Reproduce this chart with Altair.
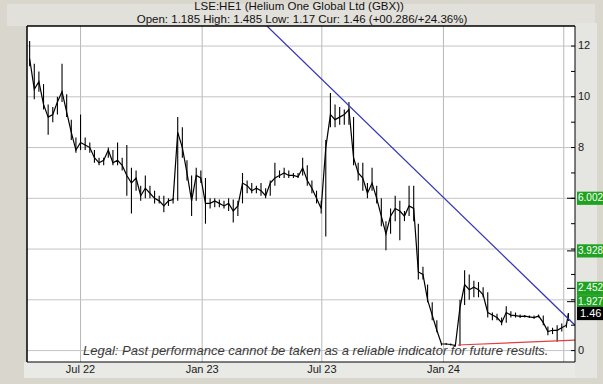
import altair as alt
import pandas as pd

# Weekly bars (Friday closes) plus the latest session
week_ends = pd.date_range("2022-04-15", "2024-07-05", freq="W-FRI")
dates = list(week_ends.strftime("%Y-%m-%d")) + ["2024-07-08"]

high = [
    # 2022
    12.2, 11.3, 11.0, 10.5, 9.7, 9.6, 10.0, 11.3, 10.1, 9.1, 8.4,
    9.3, 8.4, 8.2, 7.9, 7.6, 7.6, 8.0, 7.9, 8.2, 7.6, 8.1, 7.2, 7.1, 6.5,
    6.9, 6.5, 6.3, 6.1, 6.1, 6.0, 6.0, 9.2, 8.8, 7.5, 6.9, 7.2, 7.1,
    # 2023
    6.8, 6.0, 6.0, 5.95, 5.9, 6.0, 5.95, 5.9, 7.0, 6.7, 6.6, 6.5, 6.6,
    6.4, 6.7, 7.4, 7.1, 7.2, 7.1, 7.0, 7.0, 7.6, 7.3, 6.7, 6.3, 5.9,
    8.3, 10.15, 9.7, 9.6, 9.5, 9.8, 9.2, 7.4, 7.4, 6.6, 7.2, 6.5, 6.0,
    5.1, 5.6, 6.1, 5.9, 5.5, 6.5, 6.5, 5.0, 3.3, 2.6, 1.9, 1.2, 0.3,
    # 2024
    0.3, 0.28, 0.26, 2.0, 3.17, 3.0, 2.75, 2.7, 2.5, 2.3, 1.5, 1.45, 1.3,
    1.75, 1.55, 1.5, 1.42, 1.4, 1.38, 1.38, 1.42, 1.38, 0.95, 0.9, 1.0, 1.07,
    1.1, 1.485,
]
low = [
    # 2022
    11.2, 9.9, 10.2, 9.5, 8.5, 9.0, 9.3, 9.8, 9.2, 8.3, 7.8,
    7.9, 7.9, 7.8, 7.4, 7.3, 7.3, 7.6, 7.3, 7.3, 7.1, 6.1, 5.4, 6.3, 5.9,
    6.0, 6.0, 5.8, 5.8, 5.45, 5.7, 5.8, 5.9, 7.6, 6.7, 5.3, 5.9, 6.6,
    # 2023
    5.0, 5.6, 5.65, 5.65, 5.6, 5.5, 5.05, 5.3, 5.8, 6.2, 6.2, 6.2, 6.1,
    6.0, 6.1, 6.5, 6.8, 6.8, 6.8, 6.8, 6.8, 6.9, 6.5, 6.2, 5.8, 5.4,
    4.5, 8.8, 8.8, 8.9, 8.9, 8.9, 7.3, 6.7, 6.3, 6.0, 6.3, 5.8, 4.9,
    3.95, 4.6, 5.1, 4.35, 5.1, 5.3, 5.1, 2.8, 2.8, 1.9, 1.2, 0.72, 0.2,
    # 2024
    0.22, 0.2, 0.17, 0.18, 1.8, 2.0, 2.1, 2.1, 2.1, 1.3, 1.2, 1.2, 1.0,
    1.1, 1.3, 1.3, 1.28, 1.3, 1.28, 1.25, 1.3, 1.0, 0.6, 0.65, 0.35, 0.75,
    0.9, 1.17,
]
close = [
    # 2022
    11.5, 10.3, 10.6, 9.7, 9.2, 9.3, 9.8, 10.2, 9.4, 8.6, 7.9,
    8.2, 8.1, 8.0, 7.6, 7.4, 7.5, 7.9, 7.4, 7.5, 7.3, 6.9, 6.6, 6.8, 6.1,
    6.4, 6.2, 6.0, 5.9, 5.7, 5.9, 5.95, 8.6, 8.0, 7.0, 5.9, 6.9, 6.8,
    # 2023
    5.8, 5.8, 5.9, 5.8, 5.7, 5.8, 5.5, 5.7, 6.6, 6.5, 6.3, 6.4, 6.3,
    6.1, 6.6, 6.8, 6.9, 7.0, 6.9, 6.9, 6.85, 7.2, 6.7, 6.4, 6.0, 5.6,
    8.0, 9.3, 9.1, 9.2, 9.3, 9.5, 7.6, 7.0, 6.8, 6.2, 6.6, 6.0, 5.3,
    4.6, 5.3, 5.6, 5.5, 5.3, 5.7, 5.6, 3.1, 3.0, 2.0, 1.4, 0.8, 0.26,
    # 2024
    0.26, 0.24, 0.2, 1.7, 2.6, 2.4, 2.5, 2.4, 2.2, 1.5, 1.4, 1.3, 1.1,
    1.5, 1.4, 1.38, 1.35, 1.36, 1.33, 1.3, 1.36, 1.1, 0.75, 0.8, 0.8, 0.9,
    1.0, 1.46,
]

prices = pd.DataFrame({"date": dates, "high": high, "low": low, "close": close})

# Trend lines (start/end points)
resistance = pd.DataFrame({"date": ["2023-04-09", "2024-07-18"], "value": [12.79, 1.0]})
support = pd.DataFrame({"date": ["2024-01-23", "2024-07-18"], "value": [0.22, 0.41]})

# Price tags on the right edge
tag_values = [6.002, 3.928, 2.452, 1.927]
tag_labels = ["6.002", "3.928", "2.452", "1.927"]
last_value = 1.46
last_label = "1.46"

axis_ticks = list(range(0, 13))
grid_values = [0, 2, 4, 6, 8, 10, 12]
label_values = [0, 8, 10, 12]
month_lines = ["2022-07-01", "2023-01-01", "2023-07-01", "2024-01-01", "2024-07-01"]
month_labels = ["Jul 22", "Jan 23", "Jul 23", "Jan 24", ""]

title_line = "LSE:HE1 (Helium One Global Ltd (GBX))"
subtitle_line = "Open: 1.185 High: 1.485 Low: 1.17 Cur: 1.46 (+00.286/+24.36%)"
legal_text = "Legal:  Past performance cannot be taken as a reliable indicator for future results."

FONT = "Liberation Sans"

x_scale = alt.Scale(type="utc", domain=["2022-04-11", "2024-07-18"])
y_scale = alt.Scale(domain=[-0.45, 12.79], nice=False, zero=False)


def xq(field):
    return alt.X(field, type="temporal", scale=x_scale, axis=None)


def yq(field):
    return alt.Y(field, type="quantitative", scale=y_scale, axis=None)


# Window frame: grey surround, lighter label bands
frame = pd.DataFrame({"k": [0]})
backdrop = alt.Chart(frame).mark_rect(color="#d9d6ce").encode(
    x=alt.value(-27), x2=alt.value(576), y=alt.value(-26), y2=alt.value(358)
)
top_band = alt.Chart(frame).mark_rect(color="#e2e0da").encode(
    x=alt.value(-20), x2=alt.value(568), y=alt.value(-22), y2=alt.value(0)
)
bottom_band = alt.Chart(frame).mark_rect(color="#e9e9e6").encode(
    x=alt.value(-3), x2=alt.value(570), y=alt.value(336), y2=alt.value(352)
)
right_band = alt.Chart(frame).mark_rect(color="#e5e5e2").encode(
    x=alt.value(548), x2=alt.value(570), y=alt.value(-3), y2=alt.value(352)
)
plot_bg = alt.Chart(frame).mark_rect(color="white").encode(
    x=alt.value(0), x2=alt.value(548), y=alt.value(0), y2=alt.value(336)
)

# Grid lines
month_df = pd.DataFrame({"date": month_lines, "label": month_labels})
vgrid = alt.Chart(month_df).mark_rule(color="#b8b8b8", strokeWidth=1).encode(
    x=xq("date"), y=alt.value(0), y2=alt.value(336)
)
hgrid = alt.Chart(pd.DataFrame({"v": grid_values})).mark_rule(color="#c4c4c4", strokeWidth=1).encode(
    y=yq("v"), x=alt.value(0), x2=alt.value(548)
)
month_text = alt.Chart(month_df).mark_text(
    baseline="middle", align="center", fontSize=11, font=FONT, color="#1a1a1a"
).encode(x=xq("date"), y=alt.value(344), text="label:N")
value_text = alt.Chart(pd.DataFrame({"v": label_values})).mark_text(
    baseline="middle", align="left", fontSize=11, font=FONT, color="#1a1a1a"
).encode(y=yq("v"), x=alt.value(551), text=alt.Text("v:Q", format="d"))

# Title lines above the plot
title_text = alt.Chart(pd.DataFrame({"t": [title_line]})).mark_text(
    baseline="middle", align="center", fontSize=11.5, font=FONT, color="#111111"
).encode(x=alt.value(272), y=alt.value(-19), text="t:N")
subtitle_text = alt.Chart(pd.DataFrame({"t": [subtitle_line]})).mark_text(
    baseline="middle", align="center", fontSize=11.5, font=FONT, color="#111111"
).encode(x=alt.value(275), y=alt.value(-6), text="t:N")

base = alt.Chart(prices)
bars = base.mark_rule(color="black", strokeWidth=1.1).encode(
    x=xq("date"), y=yq("low"), y2="high:Q"
)
line = base.mark_line(color="black", strokeWidth=1.2).encode(
    x=xq("date"), y=yq("close")
)

blue = alt.Chart(resistance).mark_line(color="#3434b8", strokeWidth=1.2, clip=True).encode(
    x=xq("date"), y=yq("value")
)
red = alt.Chart(support).mark_line(color="#e04040", strokeWidth=1.2, clip=True).encode(
    x=xq("date"), y=yq("value")
)

ticks = alt.Chart(pd.DataFrame({"v": axis_ticks})).mark_rule(color="black").encode(
    x=alt.value(544), x2=alt.value(548), y=yq("v")
)
tag_df = pd.DataFrame({"v": tag_values, "label": tag_labels})
tag_ticks = alt.Chart(tag_df).mark_rule(color="black").encode(
    x=alt.value(540), x2=alt.value(548), y=yq("v")
)
tag_boxes = alt.Chart(tag_df).transform_calculate(
    lo="datum.v - 0.26", hi="datum.v + 0.26"
).mark_rect(color="#1fa21f").encode(
    x=alt.value(550), x2=alt.value(580), y=yq("lo"), y2="hi:Q"
)
tag_text = alt.Chart(tag_df).mark_text(
    align="left", baseline="middle", color="white", fontSize=10, font=FONT
).encode(x=alt.value(551), y=yq("v"), text="label:N")

last_df = pd.DataFrame({"v": [last_value], "label": [last_label]})
last_box = alt.Chart(last_df).transform_calculate(
    lo="datum.v - 0.26", hi="datum.v + 0.26"
).mark_rect(color="black").encode(
    x=alt.value(550), x2=alt.value(580), y=yq("lo"), y2="hi:Q"
)
last_text = alt.Chart(last_df).mark_text(
    align="left", baseline="middle", color="white", fontSize=11, font=FONT
).encode(x=alt.value(553), y=yq("v"), text="label:N")

legal = alt.Chart(pd.DataFrame({"t": [legal_text], "v": [0]})).mark_text(
    align="left", baseline="middle", fontStyle="italic", fontSize=13,
    color="#3a3a3a", font=FONT,
).encode(x=alt.value(56), y=yq("v"), text="t:N")

# Plot border as four rules
border_df = pd.DataFrame({"k": [0]})
border = alt.layer(
    alt.Chart(border_df).mark_rule(color="black", strokeWidth=1.5).encode(
        x=alt.value(0), x2=alt.value(548), y=alt.value(0)),
    alt.Chart(border_df).mark_rule(color="black", strokeWidth=1).encode(
        x=alt.value(0), x2=alt.value(548), y=alt.value(336)),
    alt.Chart(border_df).mark_rule(color="black", strokeWidth=1.5).encode(
        y=alt.value(0), y2=alt.value(336), x=alt.value(0)),
    alt.Chart(border_df).mark_rule(color="black", strokeWidth=1).encode(
        y=alt.value(0), y2=alt.value(336), x=alt.value(548)),
)

chart = alt.layer(
    backdrop, top_band, bottom_band, right_band, plot_bg,
    vgrid, hgrid, bars, line, blue, red, legal,
    month_text, value_text, title_text, subtitle_text, ticks, tag_ticks,
    tag_boxes, last_box, tag_text, last_text, border,
).properties(
    width=548,
    height=336,
    autosize=alt.AutoSizeParams(type="none"),
    padding={"left": 27, "top": 26, "right": 28, "bottom": 22},
).configure(
    background="#d9d6ce",
).configure_view(
    stroke=None, fill="white",
)

chart.save("out.html", embed_options={"renderer": "svg", "actions": False})
